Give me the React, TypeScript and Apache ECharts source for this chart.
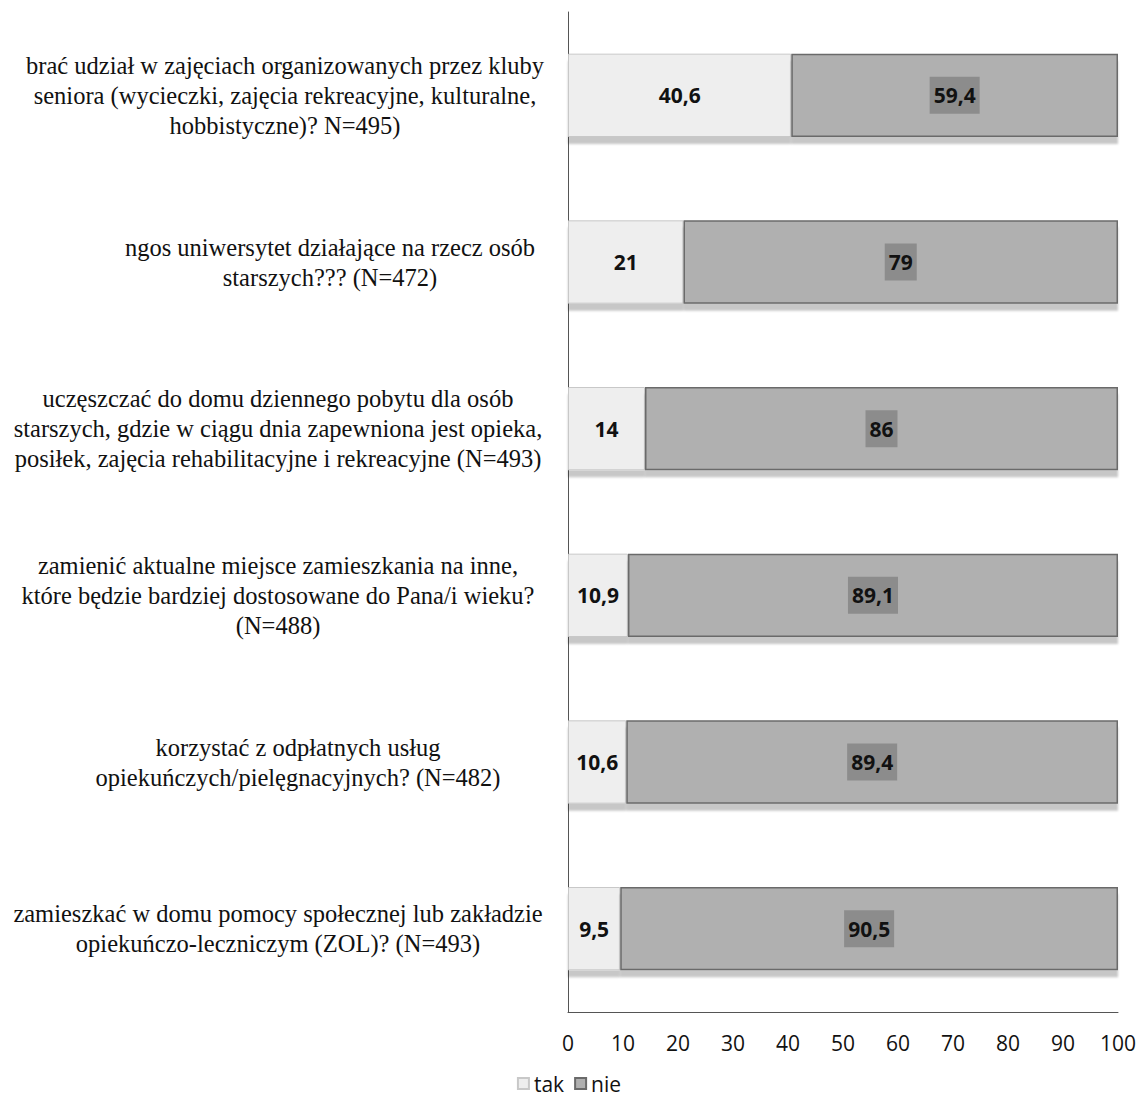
import React, { useEffect, useRef } from 'react';
import * as echarts from 'echarts';

const categories = [
  'brać udział w zajęciach organizowanych przez kluby\nseniora (wycieczki, zajęcia rekreacyjne, kulturalne,\nhobbistyczne)? N=495)',
  'ngos uniwersytet działające na rzecz osób\nstarszych??? (N=472)',
  'uczęszczać do domu dziennego pobytu dla osób\nstarszych, gdzie w ciągu dnia zapewniona jest opieka,\nposiłek, zajęcia rehabilitacyjne i rekreacyjne (N=493)',
  'zamienić aktualne miejsce zamieszkania na inne,\nktóre będzie bardziej dostosowane do Pana/i wieku?\n(N=488)',
  'korzystać z odpłatnych usług\nopiekuńczych/pielęgnacyjnych? (N=482)',
  'zamieszkać w domu pomocy społecznej lub zakładzie\nopiekuńczo-leczniczym (ZOL)? (N=493)',
];
const seriesNames = ['tak', 'nie'];
const takValues = [40.6, 21, 14, 10.9, 10.6, 9.5];
const nieValues = [59.4, 79, 86, 89.1, 89.4, 90.5];
const xMin = 0;
const xMax = 100;
const xInterval = 10;

// style only: width of each category label's centring box
const labelBoxWidths = [546, 456, 560, 560, 520, 560];

const fmt = (v: number) => String(v).replace('.', ',');
const SANS = '"Open Sans", "Liberation Sans", sans-serif';

export default function App() {
  const ref = useRef<HTMLDivElement>(null);
  useEffect(() => {
    if (!ref.current) return;
    const chart = echarts.init(ref.current, undefined, { renderer: 'svg' });
    const rich: Record<string, any> = {};
    labelBoxWidths.forEach((w, i) => {
      rich['b' + i] = {
        width: w,
        align: 'center',
        fontFamily: '"Liberation Serif", "Times New Roman", serif',
        fontSize: 24.5,
        lineHeight: 30,
        color: '#111',
      };
    });
    chart.setOption({
      animation: false,
      backgroundColor: '#ffffff',
      grid: { left: 568, right: 20, top: 12, bottom: 95, containLabel: false, outerBoundsMode: 'none' },
      legend: {
        bottom: 8,
        left: 'center',
        itemWidth: 11,
        itemHeight: 11,
        itemGap: 10,
        icon: 'rect',
        textStyle: { fontFamily: SANS, fontSize: 21, color: '#111' },
        data: seriesNames,
      },
      xAxis: {
        type: 'value',
        min: xMin,
        max: xMax,
        interval: xInterval,
        axisLine: { show: true, lineStyle: { color: '#555', width: 1 } },
        axisTick: { show: false },
        splitLine: { show: false },
        axisLabel: {
          margin: 20,
          fontFamily: SANS,
          fontSize: 21,
          color: '#111',
        },
      },
      yAxis: {
        type: 'category',
        inverse: true,
        data: categories,
        axisLine: { show: true, lineStyle: { color: '#555', width: 1 } },
        axisTick: { show: false },
        axisLabel: {
          margin: 10,
          align: 'right',
          interval: 0,
          formatter: (value: string, index: number) =>
            value.split('\n').map((l) => `{b${index}|${l}}`).join('\n'),
          rich,
        },
      },
      series: [
        {
          name: seriesNames[0],
          type: 'bar',
          stack: 'total',
          barWidth: '50%',
          data: takValues,
          itemStyle: {
            color: '#eeeeee',
            borderColor: '#c8c8c8',
            borderWidth: 1,
            shadowColor: 'rgba(0,0,0,0.22)',
            shadowOffsetY: 7,
            shadowBlur: 2,
          },
          label: {
            show: true,
            position: 'inside',
            formatter: (p: any) => fmt(p.value),
            fontFamily: SANS,
            fontWeight: 'bold',
            fontSize: 21,
            color: '#111',
          },
        },
        {
          name: seriesNames[1],
          type: 'bar',
          stack: 'total',
          barWidth: '50%',
          data: nieValues,
          itemStyle: {
            color: '#b0b0b0',
            borderColor: '#6a6a6a',
            borderWidth: 1.5,
            shadowColor: 'rgba(0,0,0,0.22)',
            shadowOffsetY: 7,
            shadowBlur: 2,
          },
          label: {
            show: true,
            position: 'inside',
            formatter: (p: any) => fmt(p.value),
            fontFamily: SANS,
            fontWeight: 'bold',
            fontSize: 21,
            color: '#111',
            backgroundColor: '#8c8c8c',
            padding: [8, 4],
          },
        },
      ],
    });
    return () => chart.dispose();
  }, []);
  return <div ref={ref} style={{ width: 1138, height: 1107, position: 'absolute', left: 0, top: 0 }} />;
}
